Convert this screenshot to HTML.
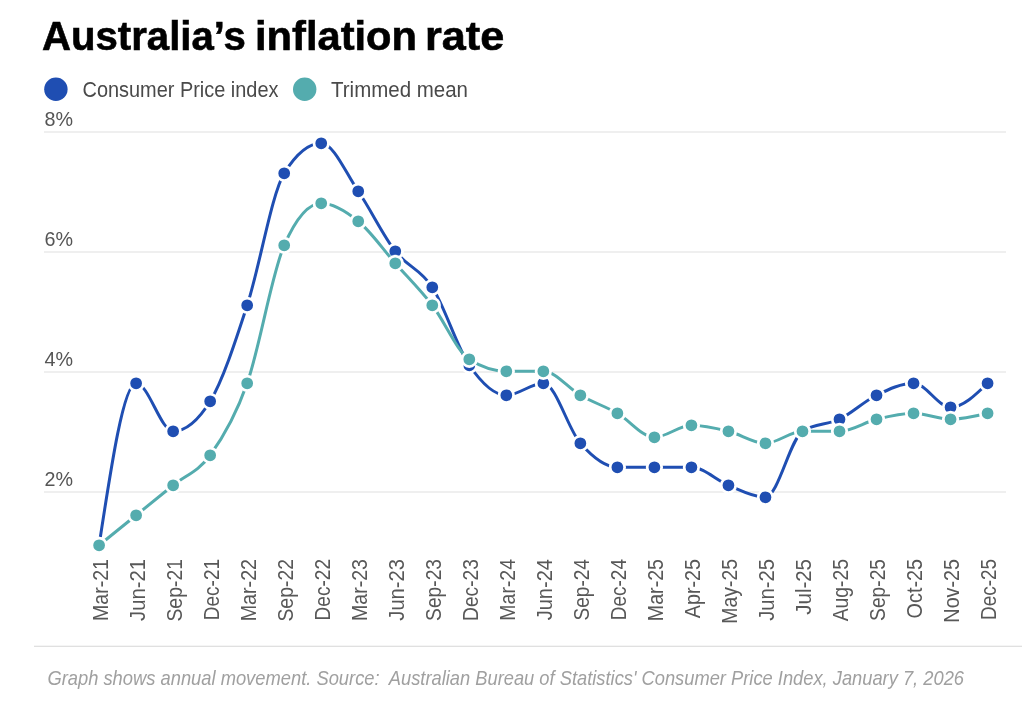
<!DOCTYPE html>
<html lang="en"><head><meta charset="utf-8"><title>Australia’s inflation rate</title>
<style>html,body{margin:0;padding:0;background:#fff;width:1024px;height:715px;overflow:hidden}svg{display:block;will-change:transform}</style>
</head><body>
<svg width="1024" height="715" viewBox="0 0 1024 715">
<rect width="1024" height="715" fill="#fff"/>
<text x="42.0" y="49.9" font-family='"Liberation Sans", sans-serif' font-weight="700" font-size="40.8" fill="#000" stroke="#000" stroke-width="0.6" textLength="203.78" lengthAdjust="spacingAndGlyphs">Australia’s</text>
<text x="255.0" y="49.9" font-family='"Liberation Sans", sans-serif' font-weight="700" font-size="40.8" fill="#000" stroke="#000" stroke-width="0.6" textLength="162.03" lengthAdjust="spacingAndGlyphs">inflation</text>
<text x="425.0" y="49.9" font-family='"Liberation Sans", sans-serif' font-weight="700" font-size="40.8" fill="#000" stroke="#000" stroke-width="0.6" textLength="79.28" lengthAdjust="spacingAndGlyphs">rate</text>
<circle cx="55.9" cy="89.3" r="11.7" fill="#1f4eb2"/>
<circle cx="304.7" cy="89.3" r="11.7" fill="#54acae"/>
<text x="82.5" y="96.6" font-family='"Liberation Sans", sans-serif' font-size="21.4" fill="#4a4a4a" textLength="196" lengthAdjust="spacingAndGlyphs">Consumer Price index</text>
<text x="331" y="96.6" font-family='"Liberation Sans", sans-serif' font-size="21.4" fill="#4a4a4a" textLength="137" lengthAdjust="spacingAndGlyphs">Trimmed mean</text>
<rect x="44" y="131.4" width="962" height="1.2" fill="#e4e4e4"/>
<text x="44.5" y="126.0" font-family='"Liberation Sans", sans-serif' font-size="20.5" fill="#555" textLength="28.5" lengthAdjust="spacingAndGlyphs">8%</text>
<rect x="44" y="251.4" width="962" height="1.2" fill="#e4e4e4"/>
<text x="44.5" y="246.0" font-family='"Liberation Sans", sans-serif' font-size="20.5" fill="#555" textLength="28.5" lengthAdjust="spacingAndGlyphs">6%</text>
<rect x="44" y="371.4" width="962" height="1.2" fill="#e4e4e4"/>
<text x="44.5" y="366.0" font-family='"Liberation Sans", sans-serif' font-size="20.5" fill="#555" textLength="28.5" lengthAdjust="spacingAndGlyphs">4%</text>
<rect x="44" y="491.4" width="962" height="1.2" fill="#e4e4e4"/>
<text x="44.5" y="486.0" font-family='"Liberation Sans", sans-serif' font-size="20.5" fill="#555" textLength="28.5" lengthAdjust="spacingAndGlyphs">2%</text>
<path d="M99.10,545.25C111.44,464.25,123.78,383.25,136.12,383.25C148.46,383.25,160.80,431.25,173.14,431.25C185.48,431.25,197.82,421.25,210.16,401.25C222.50,381.25,234.84,343.25,247.18,305.25C259.52,267.25,271.86,193.25,284.20,173.25C296.54,153.25,308.88,143.25,321.22,143.25C333.56,143.25,345.90,173.25,358.24,191.25C370.58,209.25,382.92,235.25,395.26,251.25C407.60,267.25,419.94,268.25,432.28,287.25C444.62,306.25,456.96,347.25,469.30,365.25C481.64,383.25,493.98,395.25,506.32,395.25C518.66,395.25,531.00,383.25,543.34,383.25C555.68,383.25,568.02,429.25,580.36,443.25C592.70,457.25,605.04,467.25,617.38,467.25C629.72,467.25,642.06,467.25,654.40,467.25C666.74,467.25,679.08,467.25,691.42,467.25C703.76,467.25,716.10,480.25,728.44,485.25C740.78,490.25,753.12,497.25,765.46,497.25C777.80,497.25,790.14,439.25,802.48,431.25C814.82,423.25,827.16,425.25,839.50,419.25C851.84,413.25,864.18,401.25,876.52,395.25C888.86,389.25,901.20,383.25,913.54,383.25C925.88,383.25,938.22,407.25,950.56,407.25C962.90,407.25,975.24,395.25,987.58,383.25" fill="none" stroke="#1f4eb2" stroke-width="3" stroke-linejoin="round" stroke-linecap="butt"/>
<circle cx="99.10" cy="545.25" r="7.25" fill="#1f4eb2" stroke="#fff" stroke-width="2.75"/>
<circle cx="136.12" cy="383.25" r="7.25" fill="#1f4eb2" stroke="#fff" stroke-width="2.75"/>
<circle cx="173.14" cy="431.25" r="7.25" fill="#1f4eb2" stroke="#fff" stroke-width="2.75"/>
<circle cx="210.16" cy="401.25" r="7.25" fill="#1f4eb2" stroke="#fff" stroke-width="2.75"/>
<circle cx="247.18" cy="305.25" r="7.25" fill="#1f4eb2" stroke="#fff" stroke-width="2.75"/>
<circle cx="284.20" cy="173.25" r="7.25" fill="#1f4eb2" stroke="#fff" stroke-width="2.75"/>
<circle cx="321.22" cy="143.25" r="7.25" fill="#1f4eb2" stroke="#fff" stroke-width="2.75"/>
<circle cx="358.24" cy="191.25" r="7.25" fill="#1f4eb2" stroke="#fff" stroke-width="2.75"/>
<circle cx="395.26" cy="251.25" r="7.25" fill="#1f4eb2" stroke="#fff" stroke-width="2.75"/>
<circle cx="432.28" cy="287.25" r="7.25" fill="#1f4eb2" stroke="#fff" stroke-width="2.75"/>
<circle cx="469.30" cy="365.25" r="7.25" fill="#1f4eb2" stroke="#fff" stroke-width="2.75"/>
<circle cx="506.32" cy="395.25" r="7.25" fill="#1f4eb2" stroke="#fff" stroke-width="2.75"/>
<circle cx="543.34" cy="383.25" r="7.25" fill="#1f4eb2" stroke="#fff" stroke-width="2.75"/>
<circle cx="580.36" cy="443.25" r="7.25" fill="#1f4eb2" stroke="#fff" stroke-width="2.75"/>
<circle cx="617.38" cy="467.25" r="7.25" fill="#1f4eb2" stroke="#fff" stroke-width="2.75"/>
<circle cx="654.40" cy="467.25" r="7.25" fill="#1f4eb2" stroke="#fff" stroke-width="2.75"/>
<circle cx="691.42" cy="467.25" r="7.25" fill="#1f4eb2" stroke="#fff" stroke-width="2.75"/>
<circle cx="728.44" cy="485.25" r="7.25" fill="#1f4eb2" stroke="#fff" stroke-width="2.75"/>
<circle cx="765.46" cy="497.25" r="7.25" fill="#1f4eb2" stroke="#fff" stroke-width="2.75"/>
<circle cx="802.48" cy="431.25" r="7.25" fill="#1f4eb2" stroke="#fff" stroke-width="2.75"/>
<circle cx="839.50" cy="419.25" r="7.25" fill="#1f4eb2" stroke="#fff" stroke-width="2.75"/>
<circle cx="876.52" cy="395.25" r="7.25" fill="#1f4eb2" stroke="#fff" stroke-width="2.75"/>
<circle cx="913.54" cy="383.25" r="7.25" fill="#1f4eb2" stroke="#fff" stroke-width="2.75"/>
<circle cx="950.56" cy="407.25" r="7.25" fill="#1f4eb2" stroke="#fff" stroke-width="2.75"/>
<circle cx="987.58" cy="383.25" r="7.25" fill="#1f4eb2" stroke="#fff" stroke-width="2.75"/>

<path d="M99.10,545.25C111.44,535.25,123.78,525.25,136.12,515.25C148.46,505.25,160.80,495.25,173.14,485.25C185.48,475.25,197.82,472.25,210.16,455.25C222.50,438.25,234.84,418.25,247.18,383.25C259.52,348.25,271.86,273.25,284.20,245.25C296.54,217.25,308.88,203.25,321.22,203.25C333.56,203.25,345.90,211.25,358.24,221.25C370.58,231.25,382.92,249.25,395.26,263.25C407.60,277.25,419.94,289.25,432.28,305.25C444.62,321.25,456.96,351.25,469.30,359.25C481.64,367.25,493.98,371.25,506.32,371.25C518.66,371.25,531.00,371.25,543.34,371.25C555.68,371.25,568.02,388.25,580.36,395.25C592.70,402.25,605.04,406.25,617.38,413.25C629.72,420.25,642.06,437.25,654.40,437.25C666.74,437.25,679.08,425.25,691.42,425.25C703.76,425.25,716.10,428.25,728.44,431.25C740.78,434.25,753.12,443.25,765.46,443.25C777.80,443.25,790.14,431.25,802.48,431.25C814.82,431.25,827.16,431.25,839.50,431.25C851.84,431.25,864.18,422.25,876.52,419.25C888.86,416.25,901.20,413.25,913.54,413.25C925.88,413.25,938.22,419.25,950.56,419.25C962.90,419.25,975.24,416.25,987.58,413.25" fill="none" stroke="#54acae" stroke-width="3" stroke-linejoin="round" stroke-linecap="butt"/>
<circle cx="99.10" cy="545.25" r="7.25" fill="#54acae" stroke="#fff" stroke-width="2.75"/>
<circle cx="136.12" cy="515.25" r="7.25" fill="#54acae" stroke="#fff" stroke-width="2.75"/>
<circle cx="173.14" cy="485.25" r="7.25" fill="#54acae" stroke="#fff" stroke-width="2.75"/>
<circle cx="210.16" cy="455.25" r="7.25" fill="#54acae" stroke="#fff" stroke-width="2.75"/>
<circle cx="247.18" cy="383.25" r="7.25" fill="#54acae" stroke="#fff" stroke-width="2.75"/>
<circle cx="284.20" cy="245.25" r="7.25" fill="#54acae" stroke="#fff" stroke-width="2.75"/>
<circle cx="321.22" cy="203.25" r="7.25" fill="#54acae" stroke="#fff" stroke-width="2.75"/>
<circle cx="358.24" cy="221.25" r="7.25" fill="#54acae" stroke="#fff" stroke-width="2.75"/>
<circle cx="395.26" cy="263.25" r="7.25" fill="#54acae" stroke="#fff" stroke-width="2.75"/>
<circle cx="432.28" cy="305.25" r="7.25" fill="#54acae" stroke="#fff" stroke-width="2.75"/>
<circle cx="469.30" cy="359.25" r="7.25" fill="#54acae" stroke="#fff" stroke-width="2.75"/>
<circle cx="506.32" cy="371.25" r="7.25" fill="#54acae" stroke="#fff" stroke-width="2.75"/>
<circle cx="543.34" cy="371.25" r="7.25" fill="#54acae" stroke="#fff" stroke-width="2.75"/>
<circle cx="580.36" cy="395.25" r="7.25" fill="#54acae" stroke="#fff" stroke-width="2.75"/>
<circle cx="617.38" cy="413.25" r="7.25" fill="#54acae" stroke="#fff" stroke-width="2.75"/>
<circle cx="654.40" cy="437.25" r="7.25" fill="#54acae" stroke="#fff" stroke-width="2.75"/>
<circle cx="691.42" cy="425.25" r="7.25" fill="#54acae" stroke="#fff" stroke-width="2.75"/>
<circle cx="728.44" cy="431.25" r="7.25" fill="#54acae" stroke="#fff" stroke-width="2.75"/>
<circle cx="765.46" cy="443.25" r="7.25" fill="#54acae" stroke="#fff" stroke-width="2.75"/>
<circle cx="802.48" cy="431.25" r="7.25" fill="#54acae" stroke="#fff" stroke-width="2.75"/>
<circle cx="839.50" cy="431.25" r="7.25" fill="#54acae" stroke="#fff" stroke-width="2.75"/>
<circle cx="876.52" cy="419.25" r="7.25" fill="#54acae" stroke="#fff" stroke-width="2.75"/>
<circle cx="913.54" cy="413.25" r="7.25" fill="#54acae" stroke="#fff" stroke-width="2.75"/>
<circle cx="950.56" cy="419.25" r="7.25" fill="#54acae" stroke="#fff" stroke-width="2.75"/>
<circle cx="987.58" cy="413.25" r="7.25" fill="#54acae" stroke="#fff" stroke-width="2.75"/>

<text transform="translate(107.50,559.00) rotate(-90)" text-anchor="end" font-family='"Liberation Sans", sans-serif' font-size="21.5" fill="#585858" textLength="62.03" lengthAdjust="spacingAndGlyphs">Mar-21</text>
<text transform="translate(144.52,559.00) rotate(-90)" text-anchor="end" font-family='"Liberation Sans", sans-serif' font-size="21.5" fill="#585858" textLength="61.92" lengthAdjust="spacingAndGlyphs">Jun-21</text>
<text transform="translate(181.54,559.00) rotate(-90)" text-anchor="end" font-family='"Liberation Sans", sans-serif' font-size="21.5" fill="#585858" textLength="62.58" lengthAdjust="spacingAndGlyphs">Sep-21</text>
<text transform="translate(218.56,559.00) rotate(-90)" text-anchor="end" font-family='"Liberation Sans", sans-serif' font-size="21.5" fill="#585858" textLength="61.23" lengthAdjust="spacingAndGlyphs">Dec-21</text>
<text transform="translate(255.58,559.00) rotate(-90)" text-anchor="end" font-family='"Liberation Sans", sans-serif' font-size="21.5" fill="#585858" textLength="62.29" lengthAdjust="spacingAndGlyphs">Mar-22</text>
<text transform="translate(292.60,559.00) rotate(-90)" text-anchor="end" font-family='"Liberation Sans", sans-serif' font-size="21.5" fill="#585858" textLength="62.58" lengthAdjust="spacingAndGlyphs">Sep-22</text>
<text transform="translate(329.62,559.00) rotate(-90)" text-anchor="end" font-family='"Liberation Sans", sans-serif' font-size="21.5" fill="#585858" textLength="61.42" lengthAdjust="spacingAndGlyphs">Dec-22</text>
<text transform="translate(366.64,559.00) rotate(-90)" text-anchor="end" font-family='"Liberation Sans", sans-serif' font-size="21.5" fill="#585858" textLength="62.0" lengthAdjust="spacingAndGlyphs">Mar-23</text>
<text transform="translate(403.66,559.00) rotate(-90)" text-anchor="end" font-family='"Liberation Sans", sans-serif' font-size="21.5" fill="#585858" textLength="61.69" lengthAdjust="spacingAndGlyphs">Jun-23</text>
<text transform="translate(440.68,559.00) rotate(-90)" text-anchor="end" font-family='"Liberation Sans", sans-serif' font-size="21.5" fill="#585858" textLength="61.89" lengthAdjust="spacingAndGlyphs">Sep-23</text>
<text transform="translate(477.70,559.00) rotate(-90)" text-anchor="end" font-family='"Liberation Sans", sans-serif' font-size="21.5" fill="#585858" textLength="61.99" lengthAdjust="spacingAndGlyphs">Dec-23</text>
<text transform="translate(514.72,559.00) rotate(-90)" text-anchor="end" font-family='"Liberation Sans", sans-serif' font-size="21.5" fill="#585858" textLength="61.63" lengthAdjust="spacingAndGlyphs">Mar-24</text>
<text transform="translate(551.74,559.00) rotate(-90)" text-anchor="end" font-family='"Liberation Sans", sans-serif' font-size="21.5" fill="#585858" textLength="61.33" lengthAdjust="spacingAndGlyphs">Jun-24</text>
<text transform="translate(588.76,559.00) rotate(-90)" text-anchor="end" font-family='"Liberation Sans", sans-serif' font-size="21.5" fill="#585858" textLength="61.58" lengthAdjust="spacingAndGlyphs">Sep-24</text>
<text transform="translate(625.78,559.00) rotate(-90)" text-anchor="end" font-family='"Liberation Sans", sans-serif' font-size="21.5" fill="#585858" textLength="61.27" lengthAdjust="spacingAndGlyphs">Dec-24</text>
<text transform="translate(662.80,559.00) rotate(-90)" text-anchor="end" font-family='"Liberation Sans", sans-serif' font-size="21.5" fill="#585858" textLength="62.14" lengthAdjust="spacingAndGlyphs">Mar-25</text>
<text transform="translate(699.82,559.00) rotate(-90)" text-anchor="end" font-family='"Liberation Sans", sans-serif' font-size="21.5" fill="#585858" textLength="59.21" lengthAdjust="spacingAndGlyphs">Apr-25</text>
<text transform="translate(736.84,559.00) rotate(-90)" text-anchor="end" font-family='"Liberation Sans", sans-serif' font-size="21.5" fill="#585858" textLength="64.72" lengthAdjust="spacingAndGlyphs">May-25</text>
<text transform="translate(773.86,559.00) rotate(-90)" text-anchor="end" font-family='"Liberation Sans", sans-serif' font-size="21.5" fill="#585858" textLength="61.79" lengthAdjust="spacingAndGlyphs">Jun-25</text>
<text transform="translate(810.88,559.00) rotate(-90)" text-anchor="end" font-family='"Liberation Sans", sans-serif' font-size="21.5" fill="#585858" textLength="55.72" lengthAdjust="spacingAndGlyphs">Jul-25</text>
<text transform="translate(847.90,559.00) rotate(-90)" text-anchor="end" font-family='"Liberation Sans", sans-serif' font-size="21.5" fill="#585858" textLength="62.26" lengthAdjust="spacingAndGlyphs">Aug-25</text>
<text transform="translate(884.92,559.00) rotate(-90)" text-anchor="end" font-family='"Liberation Sans", sans-serif' font-size="21.5" fill="#585858" textLength="61.89" lengthAdjust="spacingAndGlyphs">Sep-25</text>
<text transform="translate(921.94,559.00) rotate(-90)" text-anchor="end" font-family='"Liberation Sans", sans-serif' font-size="21.5" fill="#585858" textLength="59.4" lengthAdjust="spacingAndGlyphs">Oct-25</text>
<text transform="translate(958.96,559.00) rotate(-90)" text-anchor="end" font-family='"Liberation Sans", sans-serif' font-size="21.5" fill="#585858" textLength="63.63" lengthAdjust="spacingAndGlyphs">Nov-25</text>
<text transform="translate(995.98,559.00) rotate(-90)" text-anchor="end" font-family='"Liberation Sans", sans-serif' font-size="21.5" fill="#585858" textLength="60.93" lengthAdjust="spacingAndGlyphs">Dec-25</text>
<rect x="34" y="645.7" width="988" height="1.2" fill="#dddddd"/>
<text x="47.4" y="685.4" font-family='"Liberation Sans", sans-serif' font-style="italic" font-size="19.8" fill="#a0a0a0" textLength="332.21" lengthAdjust="spacingAndGlyphs">Graph shows annual movement. Source:</text>
<text x="388.8" y="685.4" font-family='"Liberation Sans", sans-serif' font-style="italic" font-size="19.8" fill="#a0a0a0" textLength="575.2" lengthAdjust="spacingAndGlyphs">Australian Bureau of Statistics' Consumer Price Index, January 7, 2026</text>
</svg>
</body></html>
